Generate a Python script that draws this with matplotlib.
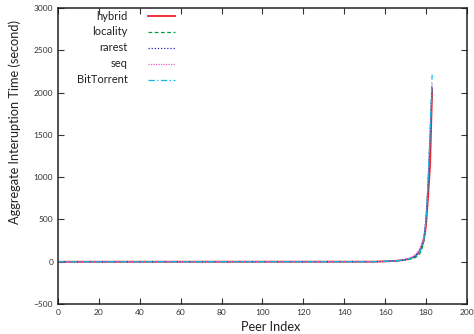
import numpy as np
import matplotlib
matplotlib.use("Agg")
import matplotlib.pyplot as plt

## -------------------- data ------------------- ##
# peers 0..149 are all ~0, only the tail differs between schemes
head = [0] * 150

hybrid_tail = [0, 0, 0, 1, 1, 1, 2, 2, 3, 3, 4, 5, 6, 7, 8, 10, 12, 14, 17, 20,
               25, 30, 36, 45, 55, 70, 95, 130, 180, 260, 430, 760, 1150, 2040]
locality_tail = [0, 0, 0, 0, 1, 1, 1, 2, 2, 3, 3, 4, 5, 6, 7, 8, 10, 12, 14, 16,
                 19, 23, 28, 34, 42, 52, 68, 95, 150, 250, 480, 900, 1450, 2060]
rarest_tail = [0, 0, 0, 1, 1, 1, 2, 2, 3, 3, 4, 5, 6, 7, 9, 10, 12, 15, 18, 21,
               26, 31, 38, 47, 58, 75, 100, 140, 200, 290, 500, 900, 1450, 2080]
seq_tail = [0, 0, 1, 1, 1, 2, 2, 3, 3, 4, 5, 6, 7, 8, 10, 12, 14, 17, 20, 24,
            30, 36, 44, 55, 70, 90, 120, 160, 220, 310, 520, 920, 1480, 2100]
bt_tail = [0, 0, 0, 1, 1, 1, 2, 2, 3, 3, 4, 5, 6, 7, 8, 10, 12, 14, 16, 19,
           23, 28, 34, 42, 52, 66, 88, 120, 175, 270, 480, 950, 1550, 2210]

names = ['hybrid', 'locality', 'rarest', 'seq', 'BitTorrent']
series = [hybrid_tail, locality_tail, rarest_tail, seq_tail, bt_tail]

xticks = np.arange(0, 201, 20)
yticks = np.arange(-500, 3001, 500)

## -------------------- plot ------------------- ##
plt.rcParams['font.family'] = ['Lato', 'DejaVu Sans']

fig = plt.figure(figsize=(4.74, 3.34), dpi=100)
ax = fig.add_axes([0.1224, 0.0898, 0.8626, 0.8862])

styles = [
    dict(color='#f02030', linestyle='-', linewidth=1.3),
    dict(color='#00a040', linestyle=(0, (3, 2)), linewidth=0.9),
    dict(color='#2020c0', linestyle=(0, (1, 1.5)), linewidth=0.9),
    dict(color='#f060c0', linestyle=(0, (1, 1)), linewidth=0.9),
    dict(color='#10b8e8', linestyle=(0, (5, 2, 1, 2)), linewidth=0.9),
]

for name, tail, st in zip(names, series, styles):
    y = np.array(head + tail)
    x = np.arange(len(y))
    ax.plot(x, y, label=name, **st)

ax.set_xlim(0, 200)
ax.set_ylim(-500, 3000)
ax.set_xticks(xticks)
ax.set_yticks(yticks)
ax.tick_params(direction='in', top=True, right=True, length=4, width=0.8,
               labelsize=6, colors='#333333', pad=3.5)
for s in ax.spines.values():
    s.set_linewidth(1.1)
    s.set_color('#222222')

ax.set_xlabel('Peer Index', fontsize=9.2, color='#222222')
ax.set_ylabel('Aggregate Interuption Time (second)', fontsize=9.2, color='#222222')
ax.xaxis.set_label_coords(0.52, -0.058)
ax.yaxis.set_label_coords(-0.09, 0.615)

# gnuplot style key: right-aligned labels, sample line to the right
row_y = [0.973, 0.919, 0.866, 0.812, 0.758]
for name, st, yy in zip(names, styles, row_y):
    ax.text(0.170, yy, name, transform=ax.transAxes, ha='right', va='center',
            fontsize=8, color='#222222')
    ax.plot([0.220, 0.286], [yy, yy], transform=ax.transAxes, **st)

plt.savefig('out.png', dpi=100)
